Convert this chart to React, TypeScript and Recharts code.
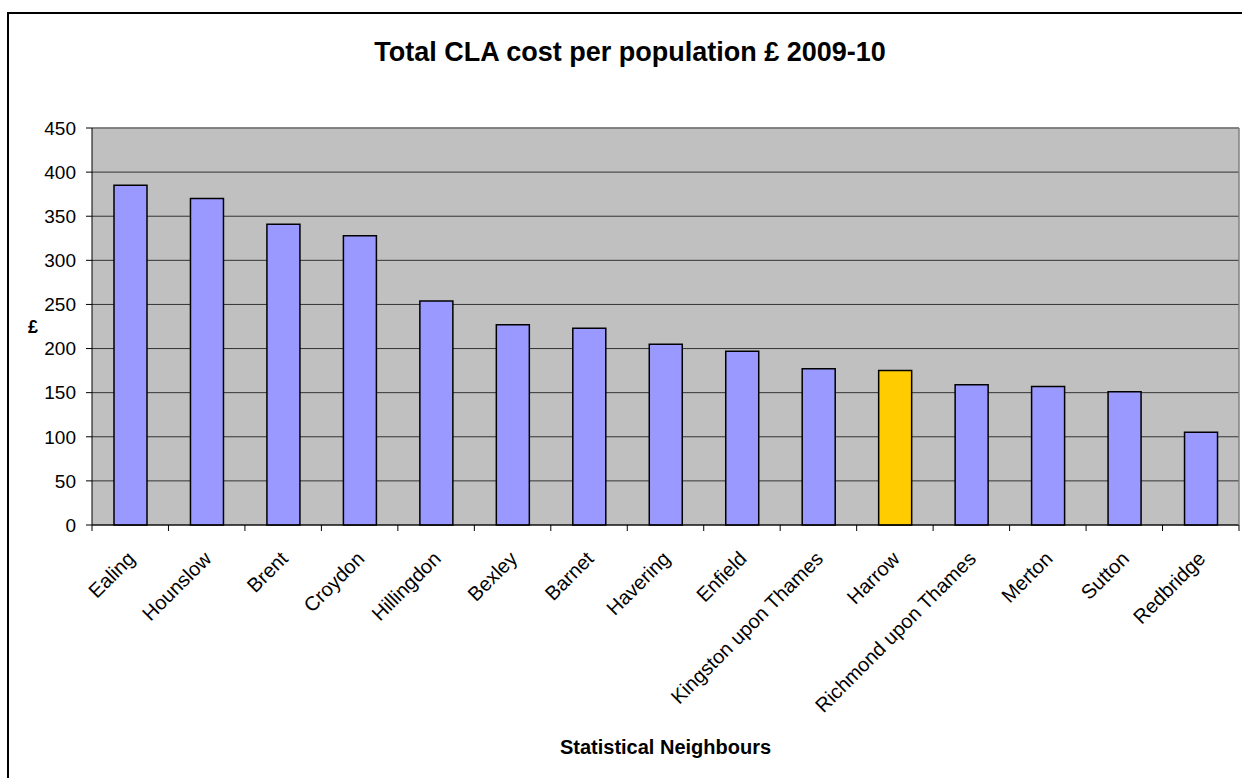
import React from "react";
import { BarChart, Bar, Cell, CartesianGrid, XAxis, YAxis, ReferenceLine } from "recharts";

const boroughs = [
  "Ealing",
  "Hounslow",
  "Brent",
  "Croydon",
  "Hillingdon",
  "Bexley",
  "Barnet",
  "Havering",
  "Enfield",
  "Kingston upon Thames",
  "Harrow",
  "Richmond upon Thames",
  "Merton",
  "Sutton",
  "Redbridge",
];
const costPerPopulation = [385, 370, 341, 328, 254, 227, 223, 205, 197, 177, 175, 159, 157, 151, 105];
const yTicks = [0, 50, 100, 150, 200, 250, 300, 350, 400, 450];
const highlighted = "Harrow";

const FONT = '"Liberation Sans", Arial, sans-serif';
const W = 1242;
const H = 778;

const data = boroughs.map((name, i) => ({ name, cost: costPerPopulation[i] }));

function BoroughTick(props: any) {
  const { x, y, payload, index } = props;
  const half = payload?.offset ?? (1239 - 92) / boroughs.length / 2;
  const last = index === boroughs.length - 1;
  const ly = y + 30;
  return (
    <g>
      <line x1={x - half} y1={y} x2={x - half} y2={y + 6} stroke="#000" />
      {last && <line x1={x + half} y1={y} x2={x + half} y2={y + 6} stroke="#000" />}
      <text
        x={x + 1}
        y={ly}
        transform={`rotate(-45, ${x + 1}, ${ly})`}
        textAnchor="end"
        dy="0.35em"
        fontSize={20}
        fontFamily={FONT}
        fill="#000"
      >
        {payload.value}
      </text>
    </g>
  );
}

export default function App() {
  return (
    <div style={{ position: "absolute", left: 0, top: 0, width: W, height: H, background: "#fff", overflow: "hidden", fontFamily: FONT }}>
      <div
        style={{
          position: "absolute",
          left: 7,
          top: 12,
          width: W + 20,
          height: H + 20,
          borderLeft: "2px solid #000",
          borderTop: "2px solid #000",
        }}
      />
      <div
        style={{
          position: "absolute",
          left: 0,
          top: 39,
          width: 1260,
          textAlign: "center",
          fontSize: 27,
          lineHeight: "27px",
          fontWeight: "bold",
          color: "#000",
        }}
      >
        Total CLA cost per population £ 2009-10
      </div>
      <div
        style={{
          position: "absolute",
          left: 23,
          top: 318,
          width: 20,
          textAlign: "center",
          fontSize: 18,
          lineHeight: "18px",
          fontWeight: "bold",
          color: "#000",
        }}
      >
        £
      </div>
      <div style={{ position: "absolute", left: 0, top: 0 }}>
        <BarChart width={W} height={H} data={data} margin={{ top: 128, right: 0, bottom: 0, left: 0 }}>
          <CartesianGrid vertical={false} stroke="#333" fill="#C0C0C0" fillOpacity={1} />
          <ReferenceLine y={450} stroke="#808080" strokeWidth={1.5} />
          <XAxis
            dataKey="name"
            interval={0}
            height={253}
            tickSize={0}
            tickMargin={0}
            tickLine={false}
            axisLine={{ stroke: "#000" }}
            tick={<BoroughTick />}
            label={{
              value: "Statistical Neighbours",
              position: "insideBottom",
              offset: 24,
              fill: "#000",
              fontSize: 20,
              fontWeight: "bold",
              fontFamily: FONT,
            }}
          />
          <YAxis
            width={92}
            domain={[0, 450]}
            ticks={yTicks}
            interval={0}
            tickSize={6}
            tickMargin={10}
            tickLine={{ stroke: "#000" }}
            axisLine={{ stroke: "#000" }}
            tick={{ fontSize: 19, fill: "#000", fontFamily: FONT }}
          />
          <YAxis
            yAxisId="frame"
            orientation="right"
            width={3}
            domain={[0, 450]}
            tick={false}
            tickLine={false}
            axisLine={{ stroke: "#808080", strokeWidth: 1.5 }}
          />
          <Bar dataKey="cost" barSize={33} stroke="#000" strokeWidth={1.5} isAnimationActive={false}>
            {data.map((d) => (
              <Cell key={d.name} fill={d.name === highlighted ? "#FFCC00" : "#9999FF"} />
            ))}
          </Bar>
        </BarChart>
      </div>
    </div>
  );
}
